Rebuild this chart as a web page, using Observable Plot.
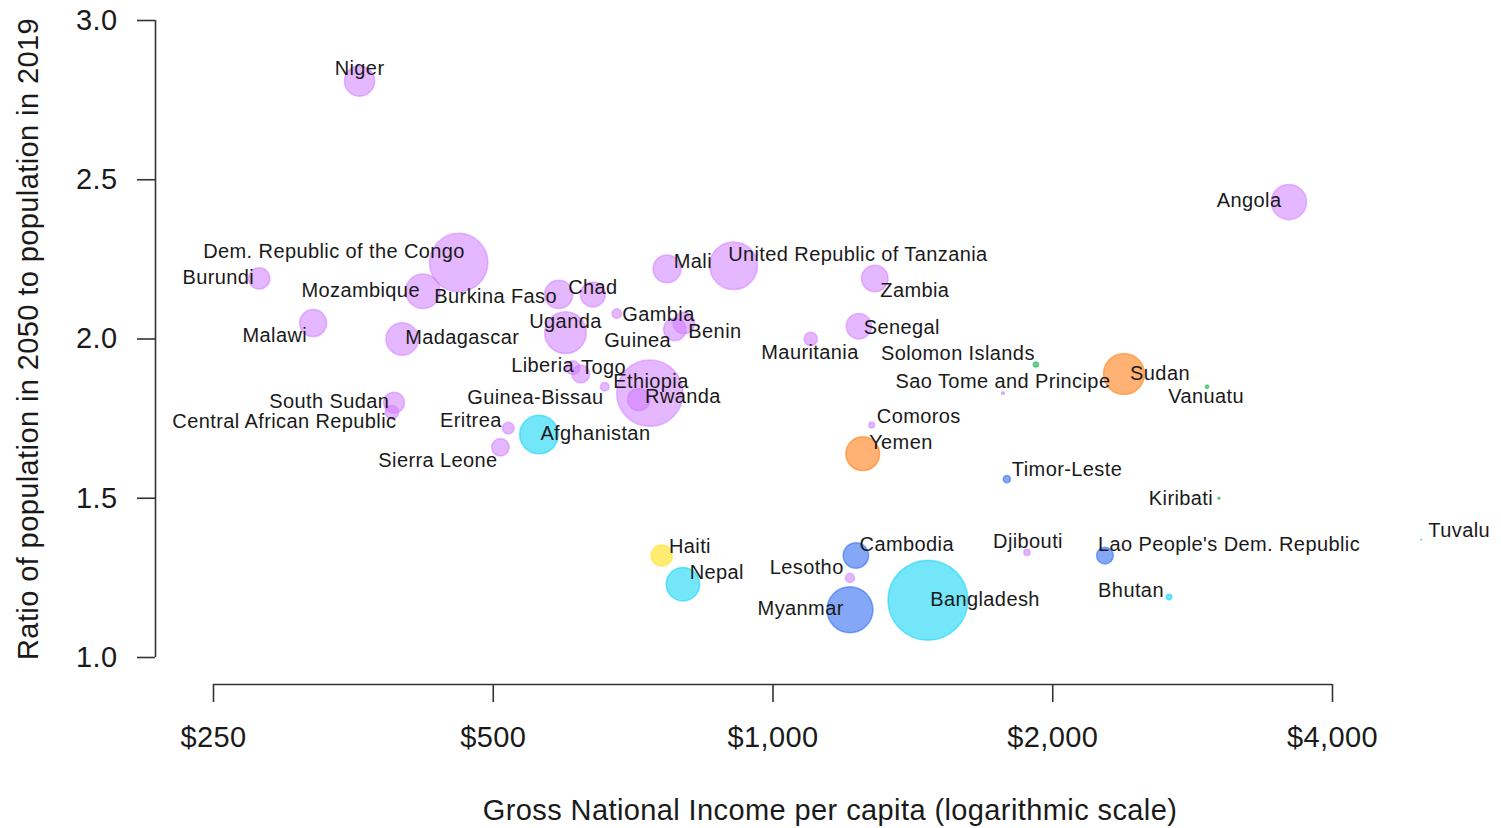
<!DOCTYPE html>
<html><head><meta charset="utf-8">
<script src="https://cdn.jsdelivr.net/npm/d3@7"></script>
<script src="https://cdn.jsdelivr.net/npm/@observablehq/plot@0.6"></script>
<style>body{margin:0;background:#fff}</style>
</head><body><div id="chart"></div>
<script>
const countries = ["Niger","Angola","Dem. Republic of the Congo","Burundi","Mozambique","Malawi","Madagascar","South Sudan","Central African Republic","Eritrea","Sierra Leone","Afghanistan","Burkina Faso","Chad","Uganda","Gambia","Guinea","Benin","Mali","United Republic of Tanzania","Liberia","Togo","Guinea-Bissau","Ethiopia","Rwanda","Mauritania","Senegal","Zambia","Comoros","Yemen","Solomon Islands","Sao Tome and Principe","Sudan","Vanuatu","Timor-Leste","Kiribati","Tuvalu","Lao People's Dem. Republic","Bhutan","Haiti","Nepal","Cambodia","Lesotho","Myanmar","Bangladesh","Djibouti"];
const regions = ["Africa","Africa","Africa","Africa","Africa","Africa","Africa","Africa","Africa","Africa","Africa","South Asia","Africa","Africa","Africa","Africa","Africa","Africa","Africa","Africa","Africa","Africa","Africa","Africa","Africa","Africa","Africa","Africa","Africa","Arab States","Pacific","Africa","Arab States","Pacific","South-East Asia","Pacific","Pacific","South-East Asia","South Asia","Latin America","South Asia","South-East Asia","Africa","South-East Asia","South Asia","Africa"];
const gni = [359,3590,459,280,420,320,399,391,389,519,509,560,588,640,598,679,784,802,769,907,609,621,659,737,717,1098,1237,1287,1277,1249,1918,1768,2386,2931,1785,3019,4983,2276,2668,759,800,1228,1210,1210,1468,1876];
const ratio = [2.81,2.43,2.24,2.19,2.15,2.05,2.00,1.80,1.77,1.72,1.66,1.70,2.14,2.14,2.02,2.08,2.03,2.05,2.22,2.23,1.91,1.89,1.85,1.83,1.81,2.00,2.04,2.19,1.73,1.64,1.92,1.83,1.89,1.85,1.56,1.50,1.37,1.32,1.19,1.32,1.23,1.32,1.25,1.15,1.18,1.33];
const population = [23.3,31.8,86.8,11.5,30.4,18.6,27.0,11.1,4.7,3.5,7.8,38.0,20.3,15.9,44.3,2.3,12.8,11.8,19.7,58.0,4.9,8.1,1.9,112.1,12.6,4.5,16.3,17.9,0.85,29.2,0.67,0.215,42.8,0.30,1.29,0.12,0.012,7.2,0.76,11.3,28.6,16.5,2.1,54.0,163.0,0.97];
const labelGni = [359,3253,337,253,360,291,463,333,298,473,436,644,503,640,598,753,715,866,820,1234,565,657,555,739,800,1096,1376,1421,1435,1373,1581,1768,2609,2924,2072,2748,5475,3095,2428,814,870,1393,1087,1071,1691,1881];
const labelRatio = [2.849,2.435,2.275,2.193,2.152,2.011,2.005,1.804,1.741,1.744,1.619,1.703,2.133,2.162,2.055,2.077,1.995,2.024,2.243,2.265,1.917,1.911,1.816,1.867,1.819,1.958,2.036,2.152,1.757,1.675,1.954,1.867,1.892,1.819,1.590,1.499,1.399,1.355,1.210,1.349,1.267,1.355,1.283,1.154,1.182,1.364];
const xTicks = [250,500,1000,2000,4000];
const yTicks = [1.0,1.5,2.0,2.5,3.0];
const regionNames = ["Africa","South Asia","South-East Asia","Arab States","Pacific","Latin America"];
const regionColors = ["#d07cff","#00d2f6","#1f60ef","#ff7300","#00b03c","#ffdf00"];
const xTitle = "Gross National Income per capita (logarithmic scale)";
const yTitle = "Ratio of population in 2050 to population in 2019";

const data = countries.map((name, i) => ({
  name, region: regions[i], gni: gni[i], ratio: ratio[i], pop: population[i],
  lx: labelGni[i], ly: labelRatio[i]
}));

const W = 1501, H = 828;
const mL = 213, mR = 169, mT = 20, mB = 171;
const axisGapX = 27, axisGapY = 58;
const axisColor = "#333";
const textColor = "#1a1a1a";

const chart = Plot.plot({
  width: W, height: H,
  marginLeft: mL, marginRight: mR, marginTop: mT, marginBottom: mB,
  style: {fontFamily: "'Liberation Sans', Arial, sans-serif", background: "#fff", overflow: "visible", letterSpacing: "0.4px"},
  x: {type: "log", domain: [250, 4000]},
  y: {domain: [1, 3]},
  r: {type: "sqrt", domain: [0, 163], range: [0, 40]},
  color: {domain: regionNames, range: regionColors},
  marks: [
    Plot.ruleY([1], {x1: 250, x2: 4000, dy: axisGapX, stroke: axisColor, strokeWidth: 1.6}),
    Plot.ruleX([250], {y1: 1, y2: 3, dx: -axisGapY, stroke: axisColor, strokeWidth: 1.6}),
    Plot.axisX({ticks: xTicks, tickFormat: d => "$" + d3.format(",")(d), tickSize: 18, tickPadding: 24, dy: axisGapX, fontSize: 29, label: null, stroke: axisColor, strokeWidth: 1.6, fill: textColor}),
    Plot.axisY({ticks: yTicks, tickFormat: d3.format(".1f"), tickSize: 18, tickPadding: 20, dx: -axisGapY, fontSize: 29, label: null, stroke: axisColor, strokeWidth: 1.6, fill: textColor}),
    Plot.text([xTitle], {frameAnchor: "bottom", lineAnchor: "middle", textAnchor: "middle", dy: 153, dx: 57, fontSize: 29, fill: textColor}),
    Plot.text([yTitle], {frameAnchor: "left", textAnchor: "middle", lineAnchor: "middle", dx: -185, rotate: -90, fontSize: 29, fill: textColor}),
    Plot.dot(data, {x: "gni", y: "ratio", r: "pop", fill: "region", fillOpacity: 0.55, stroke: "region", strokeOpacity: 0.5, strokeWidth: 1.5}),
    Plot.text(data, {x: "lx", y: "ly", text: "name", fontSize: 20, fill: textColor})
  ]
});
document.getElementById("chart").appendChild(chart);
</script></body></html>
